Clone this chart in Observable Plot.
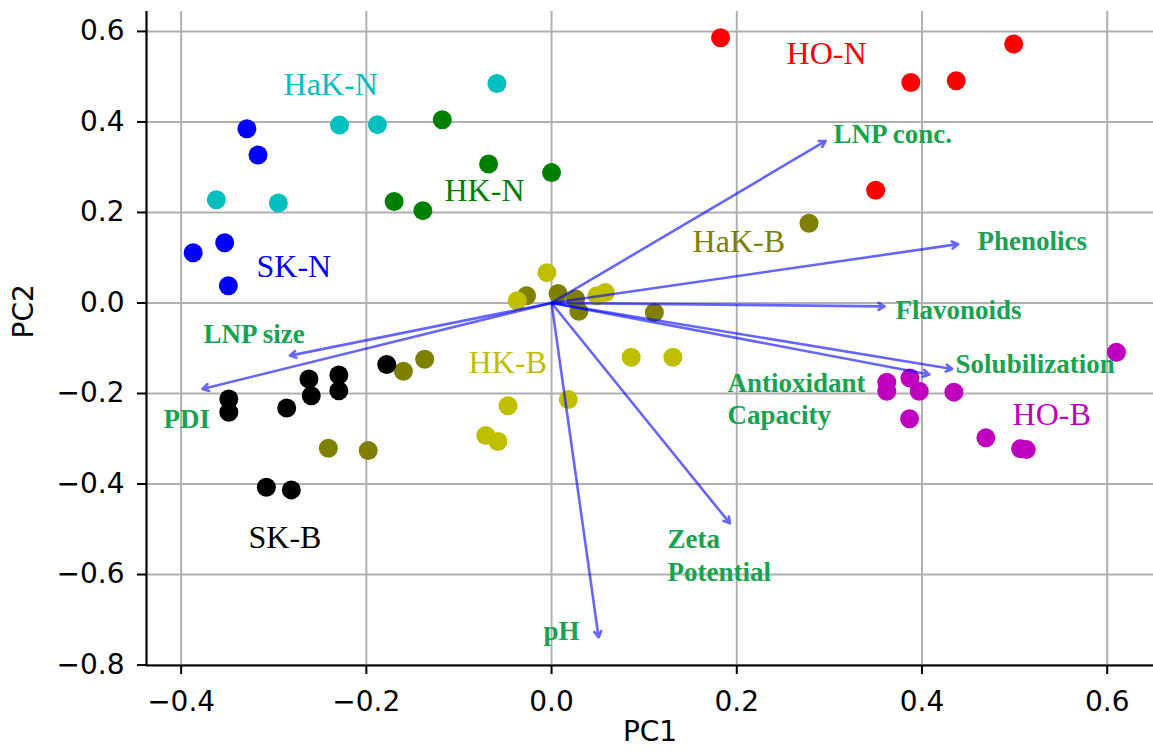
<!DOCTYPE html>
<html>
<head>
<meta charset="utf-8">
<script src="https://cdn.jsdelivr.net/npm/d3@7"></script>
<script src="https://cdn.jsdelivr.net/npm/@observablehq/plot@0.6"></script>
<style>
  html, body { margin: 0; padding: 0; background: white; }
</style>
</head>
<body>
<div id="chart"></div>
<script>
// ---- Scores (PC1, PC2) per group ----
const groups = ["SK-N", "HaK-N", "HK-N", "HO-N", "HaK-B", "HK-B", "SK-B", "HO-B"];
const colors = ["#0000ff", "#00bfbf", "#008000", "#ff0000", "#808000", "#bfbf00", "#000000", "#bf00bf"];

const skN  = [[-0.329, 0.385], [-0.317, 0.327], [-0.387, 0.111], [-0.353, 0.133], [-0.349, 0.038]];
const hakN = [[-0.362, 0.228], [-0.295, 0.221], [-0.229, 0.393], [-0.188, 0.394], [-0.059, 0.485]];
const hkN  = [[-0.118, 0.405], [-0.068, 0.307], [0.000, 0.288], [-0.139, 0.204], [-0.170, 0.224]];
const hoN  = [[0.1825, 0.586], [0.388, 0.487], [0.437, 0.491], [0.499, 0.572], [0.350, 0.249]];
const hakB = [[0.278, 0.176], [-0.027, 0.016], [0.007, 0.021], [0.026, 0.009], [0.0295, -0.0185],
              [0.111, -0.021], [-0.137, -0.1245], [-0.160, -0.151], [-0.241, -0.321], [-0.198, -0.326]];
const hkB  = [[-0.005, 0.067], [-0.037, 0.005], [0.049, 0.016], [0.058, 0.023], [0.086, -0.120],
              [0.131, -0.120], [-0.047, -0.227], [0.018, -0.2135], [-0.071, -0.293], [-0.058, -0.306]];
const skB  = [[-0.3485, -0.212], [-0.3485, -0.2415], [-0.286, -0.232], [-0.262, -0.168], [-0.2595, -0.205],
              [-0.2297, -0.159], [-0.2297, -0.194], [-0.178, -0.136], [-0.308, -0.407], [-0.281, -0.413]];
const hoB  = [[0.610, -0.109], [0.362, -0.175], [0.362, -0.195], [0.387, -0.166], [0.397, -0.195],
              [0.4345, -0.197], [0.3866, -0.256], [0.469, -0.298], [0.5065, -0.322], [0.5126, -0.324]];
const scores = [skN, hakN, hkN, hoN, hakB, hkB, skB, hoB];

// ---- Group label anchor positions (data units) ----
const groupLabelX = [-0.3186, -0.2894, -0.1156, 0.2538, 0.1523, -0.0896, -0.3272, 0.4978];
const groupLabelY = [0.080, 0.482, 0.248, 0.5505, 0.135, -0.132, -0.518, -0.2466];

// ---- Loadings (biplot arrows) ----
const variables = ["LNP conc.", "Phenolics", "Flavonoids", "Solubilization", "Antioxidant\nCapacity",
                   "Zeta\nPotential", "pH", "LNP size", "PDI"];
const loadPC1 = [0.296, 0.439, 0.3596, 0.4327, 0.408, 0.1926, 0.0508, -0.2826, -0.377];
const loadPC2 = [0.358, 0.130, -0.0075, -0.146, -0.158, -0.487, -0.739, -0.1163, -0.190];
const varLabelX = [0.3045, 0.460, 0.3715, 0.4363, 0.190, 0.1253, -0.0086, -0.3758, -0.419];
const varLabelY = [0.376, 0.140, -0.0126, -0.132, -0.209, -0.5547, -0.7215, -0.0656, -0.253];
const origin = [0, 0];

// ---- Axes ----
const xDomain = [-0.4374, 0.650];
const yDomain = [-0.801, 0.644];
const xTicks = [-0.4, -0.2, 0.0, 0.2, 0.4, 0.6];
const yTicks = [-0.8, -0.6, -0.4, -0.2, 0.0, 0.2, 0.4, 0.6];
const xTitle = "PC1";
const yTitle = "PC2";

const fmt = d => (d < 0 ? "\u2212" : "") + Math.abs(d).toFixed(1);

const points = scores.flatMap((arr, gi) => arr.map(([x, y]) => ({x, y, g: groups[gi], c: colors[gi]})));
const groupLabels = groups.map((g, i) => ({text: g, x: groupLabelX[i], y: groupLabelY[i], c: colors[i]}));
const loadings = variables.map((v, i) => ({v, x: loadPC1[i], y: loadPC2[i], lx: varLabelX[i], ly: varLabelY[i]}));

const chart = Plot.plot({
  width: 1153,
  height: 755,
  marginLeft: 146,
  marginRight: 0,
  marginTop: 11,
  marginBottom: 90,
  style: {fontFamily: "DejaVu Sans", fontSize: "28px", background: "white", color: "black", overflow: "visible"},
  x: {domain: xDomain},
  y: {domain: yDomain},
  marks: [
    Plot.gridX(xTicks, {stroke: "#b0b0b0", strokeOpacity: 1, strokeWidth: 2}),
    Plot.gridY(yTicks, {stroke: "#b0b0b0", strokeOpacity: 1, strokeWidth: 2}),
    Plot.axisX(xTicks, {tickSize: 9, tickPadding: 17, tickFormat: fmt, strokeWidth: 2, label: null, fontSize: 28}),
    Plot.axisY(yTicks, {tickSize: 9, tickPadding: 13, tickFormat: fmt, strokeWidth: 2, label: null, fontSize: 28}),
    Plot.ruleX([xDomain[0]], {stroke: "black", strokeWidth: 2.2}),
    Plot.ruleY([yDomain[0]], {stroke: "black", strokeWidth: 2.2}),
    Plot.dot(points, {x: "x", y: "y", r: 9.5, fill: "c", stroke: null}),
    Plot.arrow(loadings, {
      x1: () => origin[0], y1: () => origin[1], x2: "x", y2: "y",
      stroke: "#0000ff", strokeOpacity: 0.6, strokeWidth: 2.6, headLength: 4, headAngle: 60
    }),
    Plot.text(groupLabels, {
      x: "x", y: "y", text: "text", fill: "c", textAnchor: "start",
      fontFamily: "Liberation Serif", fontSize: 32
    }),
    Plot.text(loadings, {
      x: "lx", y: "ly", text: "v", fill: "#17a34f", textAnchor: "start",
      fontFamily: "Liberation Serif", fontWeight: "bold", fontSize: 27, lineHeight: 1.2
    }),
    Plot.text([xTitle], {text: d => d, frameAnchor: "bottom", dy: 75, fontSize: 28, fill: "black"}),
    Plot.text([yTitle], {text: d => d, frameAnchor: "left", dx: -122, rotate: -90, fontSize: 28, fill: "black"})
  ]
});

document.getElementById("chart").appendChild(chart);
</script>
</body>
</html>
